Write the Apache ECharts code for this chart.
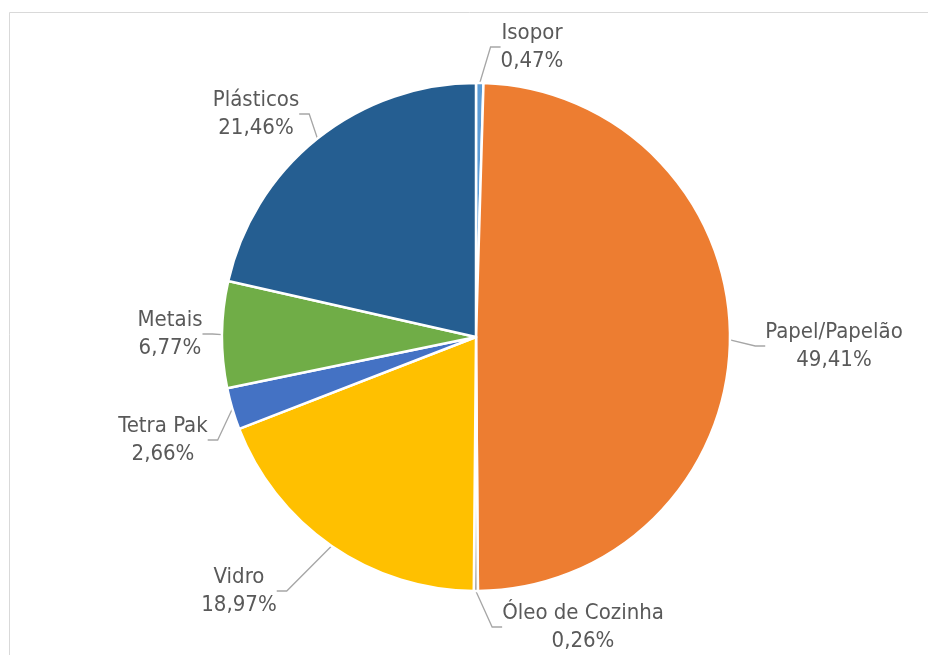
<!DOCTYPE html>
<html>
<head>
<meta charset="utf-8">
<script src="https://cdn.jsdelivr.net/npm/echarts@6/dist/echarts.min.js"></script>
<style>
html,body{margin:0;padding:0;background:#fff;}
#c{width:928px;height:655px;}
</style>
</head>
<body>
<div id="c"></div>
<script>
const categories = ['Isopor', 'Papel/Papelão', 'Óleo de Cozinha', 'Vidro', 'Tetra Pak', 'Metais', 'Plásticos'];
const values = [0.47, 49.41, 0.26, 18.97, 2.66, 6.77, 21.46];
const colors = ['#5B9BD5', '#ED7D31', '#A5A5A5', '#FFC000', '#4472C4', '#70AD47', '#255E91'];
// label block centres (text placement, not marks)
const labelPos = [[532, 47], [834, 346], [583, 627], [239, 591], [163, 440], [170, 334], [256, 114]];

const chart = echarts.init(document.getElementById('c'));
chart.setOption({
  animation: false,
  backgroundColor: '#fff',
  graphic: [{
    type: 'rect',
    shape: {x: 9.5, y: 12.5, width: 1000, height: 1000},
    style: {fill: 'none', stroke: '#d9d9d9', lineWidth: 1},
    silent: true, z: -10
  }],
  series: [{
    type: 'pie',
    center: [476, 337],
    radius: [0, 254],
    startAngle: 90,
    clockwise: true,
    avoidLabelOverlap: false,
    itemStyle: {borderColor: '#fff', borderWidth: 2.5},
    label: {
      show: true,
      position: 'outside',
      fontFamily: '"DejaVu Sans Condensed", "Liberation Sans", sans-serif',
      fontSize: 22,
      lineHeight: 28,
      color: '#595959',
      align: 'center',
      formatter: p => p.name + '\n' + p.value.toFixed(2).replace('.', ',') + '%'
    },
    labelLine: {show: true, lineStyle: {color: '#a6a6a6', width: 1.3}, length: 10, length2: 10},
    labelLayout: p => ({
      x: labelPos[p.dataIndex][0],
      y: labelPos[p.dataIndex][1],
      align: 'center',
      verticalAlign: 'middle'
    }),
    data: categories.map((c, i) => ({name: c, value: values[i], itemStyle: {color: colors[i]}}))
  }]
});
</script>
</body>
</html>
